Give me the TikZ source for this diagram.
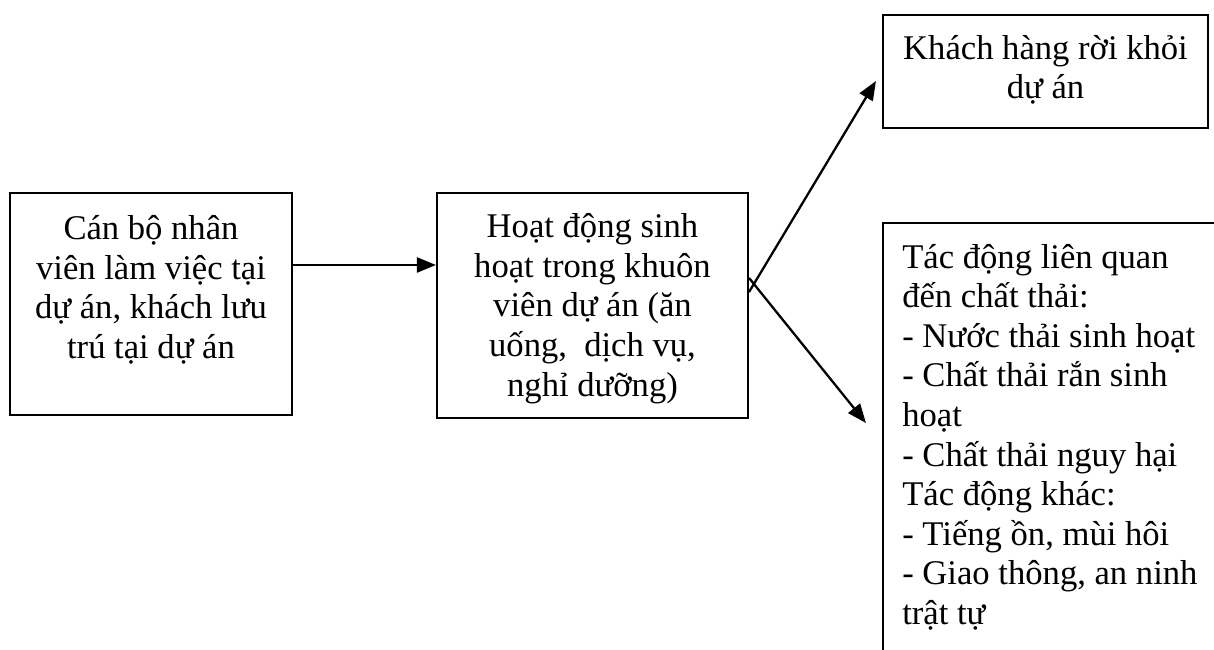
\documentclass[tikz,border=0pt]{standalone}
\usepackage{fontspec}
\setmainfont{Liberation Serif}
\usetikzlibrary{positioning,arrows.meta}

\tikzset{
  box/.style={draw, rectangle, line width=1.2pt, inner sep=0pt},
  txt/.style={inner sep=0pt, font=\fontsize{19.7}{22.5}\selectfont, execute at begin node=\strut},
  link/.style={-{Triangle[length=0.38cm, width=0.3cm]}, line width=1.3pt}
}

\begin{document}
\begin{tikzpicture}
            \useasboundingbox (0,0) rectangle (24.28,13);
            \clip (0,0) rectangle (24.28,13);
            \node[box, minimum width=5.64cm, minimum height=4.44cm] (staff) at (3.02,6.92) {};
            \node[box, minimum width=6.22cm, minimum height=4.5cm] (activity) at (11.85,6.89) {};
            \node[box, minimum width=6.5cm, minimum height=2.26cm] (leave) at (20.91,11.57) {};
            \node[box, minimum width=6.94cm, minimum height=9.14cm] (impact) at (21.13,3.97) {};
            \node[txt, align=center, below=0.47cm of staff.north] (stafftext) {Cán bộ nhân\\viên làm việc tại\\dự án, khách lưu\\trú tại dự án};
            \node[txt, align=center, below=0.43cm of activity.north] (activitytext) {Hoạt động sinh\\hoạt trong khuôn\\viên dự án (ăn\\uống,\ \ dịch vụ,\\nghỉ dưỡng)};
            \node[txt, align=center, below=0.42cm of leave.north] (leavetext) {Khách hàng rời khỏi\\dự án};
            \node[txt, align=left, anchor=north west] (impacttext) at ([xshift=0.4cm, yshift=-0.44cm]impact.north west) {Tác động liên quan\\đến chất thải:\\- Nước thải sinh hoạt\\- Chất thải rắn sinh\\hoạt\\- Chất thải nguy hại\\Tác động khác:\\- Tiếng ồn, mùi hôi\\- Giao thông, an ninh\\trật tự};
            \draw[link] ([yshift=0.78cm]staff.east) -- ([yshift=0.78cm]staff.east -| activity.west);
            \draw[link] ([yshift=0.27cm]activity.east) -- ([xshift=-0.12cm, yshift=-0.19cm]leave.west);
            \draw[link] ([yshift=0.55cm]activity.east) -- ([xshift=-0.32cm, yshift=0.57cm]impact.west);
        \end{tikzpicture}
\end{document}
